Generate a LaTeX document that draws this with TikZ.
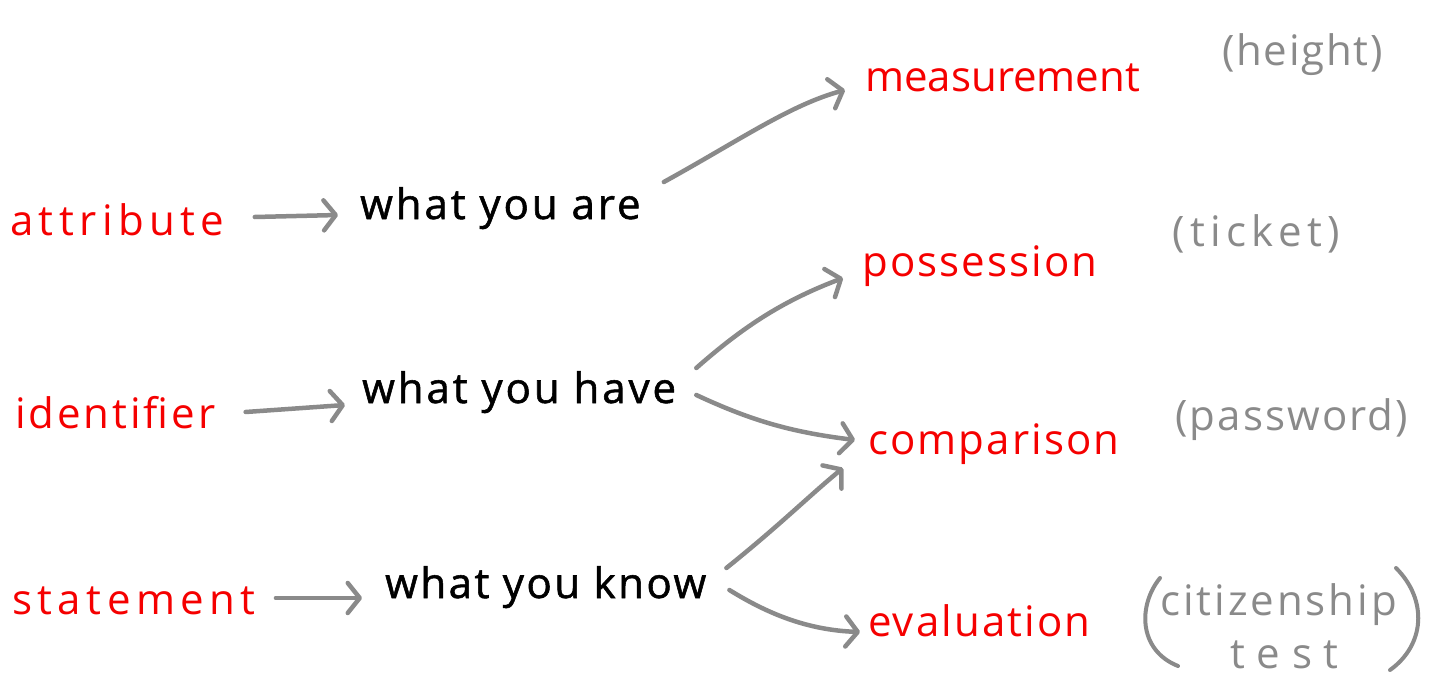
\documentclass[tikz,border=0pt]{standalone}
\usepackage{fontspec}
\setmainfont{Open Sans}
\usetikzlibrary{arrows.meta}
\definecolor{hred}{RGB}{245,0,0}
\definecolor{hgray}{RGB}{138,138,138}
\newcommand{\ls}[2]{{\addfontfeatures{LetterSpace=#1}#2}}
\newcommand{\lsb}[2]{{\addfontfeatures{LetterSpace=#1,FakeBold=1.3}#2}}
\tikzset{
  redtxt/.style={text=hred, inner sep=0pt, anchor=base west, font=\fontsize{42}{46}\selectfont},
  blktxt/.style={text=black, inner sep=0pt, anchor=base west, font=\fontsize{42}{46}\selectfont},
  graytxt/.style={text=hgray, inner sep=0pt, anchor=base west, font=\fontsize{42}{46}\selectfont},
  arr/.style={draw=hgray, line width=4.5pt, line cap=round,
    -{Straight Barb[length=12pt,width=30pt,round]}},
  paren/.style={draw=hgray, line width=4pt, line cap=round}
}
\begin{document}
\begin{tikzpicture}[x=1pt,y=-1pt]
\useasboundingbox (0,0) rectangle (1439,682);
% left column
\node[redtxt] (attr) at (10,235) {\ls{13}{attribute}};
\node[redtxt] (ident) at (15,428) {\ls{7}{identifier}};
\node[redtxt] (stmt) at (12,614) {\ls{13}{statement}};
% middle column
\node[blktxt] (are) at (360,219) {\lsb{7}{what you are}};
\node[blktxt] (have) at (362,403) {\lsb{7}{what you have}};
\node[blktxt] (know) at (385,598) {\lsb{6}{what you know}};
% right column
\node[redtxt] (meas) at (865,92) {measurement};
\node[redtxt] (poss) at (862,276) {\ls{5}{possession}};
\node[redtxt] (comp) at (868,454) {\ls{5}{comparison}};
\node[redtxt] (eval) at (868,636) {\ls{5}{evaluation}};
% examples
\node[graytxt] (height) at (1222,66) {\ls{4}{(height)}};
\node[graytxt] (ticket) at (1172,246) {\ls{13}{(ticket)}};
\node[graytxt] (pass) at (1175,430) {\ls{5}{(password)}};
\node[graytxt] (citiz) at (1160,615) {\ls{7}{citizenship}};
\node[graytxt] (test) at (1230,668) {\ls{28}{test}};
\draw[paren] (1160,578) .. controls (1138,605) and (1138,650) .. (1178,666);
\draw[paren] (1396,568) .. controls (1428,600) and (1425,645) .. (1390,670);
% connectors
\draw[arr] ([shift={(30,-18)}]attr.base east) -- ([shift={(-22,-4)}]are.base west);
\draw[arr] ([shift={(30,-16)}]ident.base east) -- ([shift={(-17,2)}]have.base west);
\draw[arr] ([shift={(20,-16)}]stmt.base east) -- ([shift={(-23,0)}]know.base west);
\draw[arr] ([shift={(23,-37)}]are.base east) .. controls (740,140) and (790,105) .. ([shift={(-20,-2)}]meas.base west);
\draw[arr] ([shift={(20,-35)}]have.base east) .. controls (745,325) and (785,300) .. ([shift={(-19,2)}]poss.base west);
\draw[arr] ([shift={(20,-8)}]have.base east) .. controls (750,420) and (790,432) .. ([shift={(-13,-14)}]comp.base west);
\draw[arr] ([shift={(20,-30)}]know.base east) .. controls (780,525) and (810,495) .. ([shift={(-25,14)}]comp.base west);
\draw[arr] ([shift={(23,-8)}]know.base east) .. controls (765,612) and (805,630) .. ([shift={(-8,-4)}]eval.base west);
\end{tikzpicture}
\end{document}
